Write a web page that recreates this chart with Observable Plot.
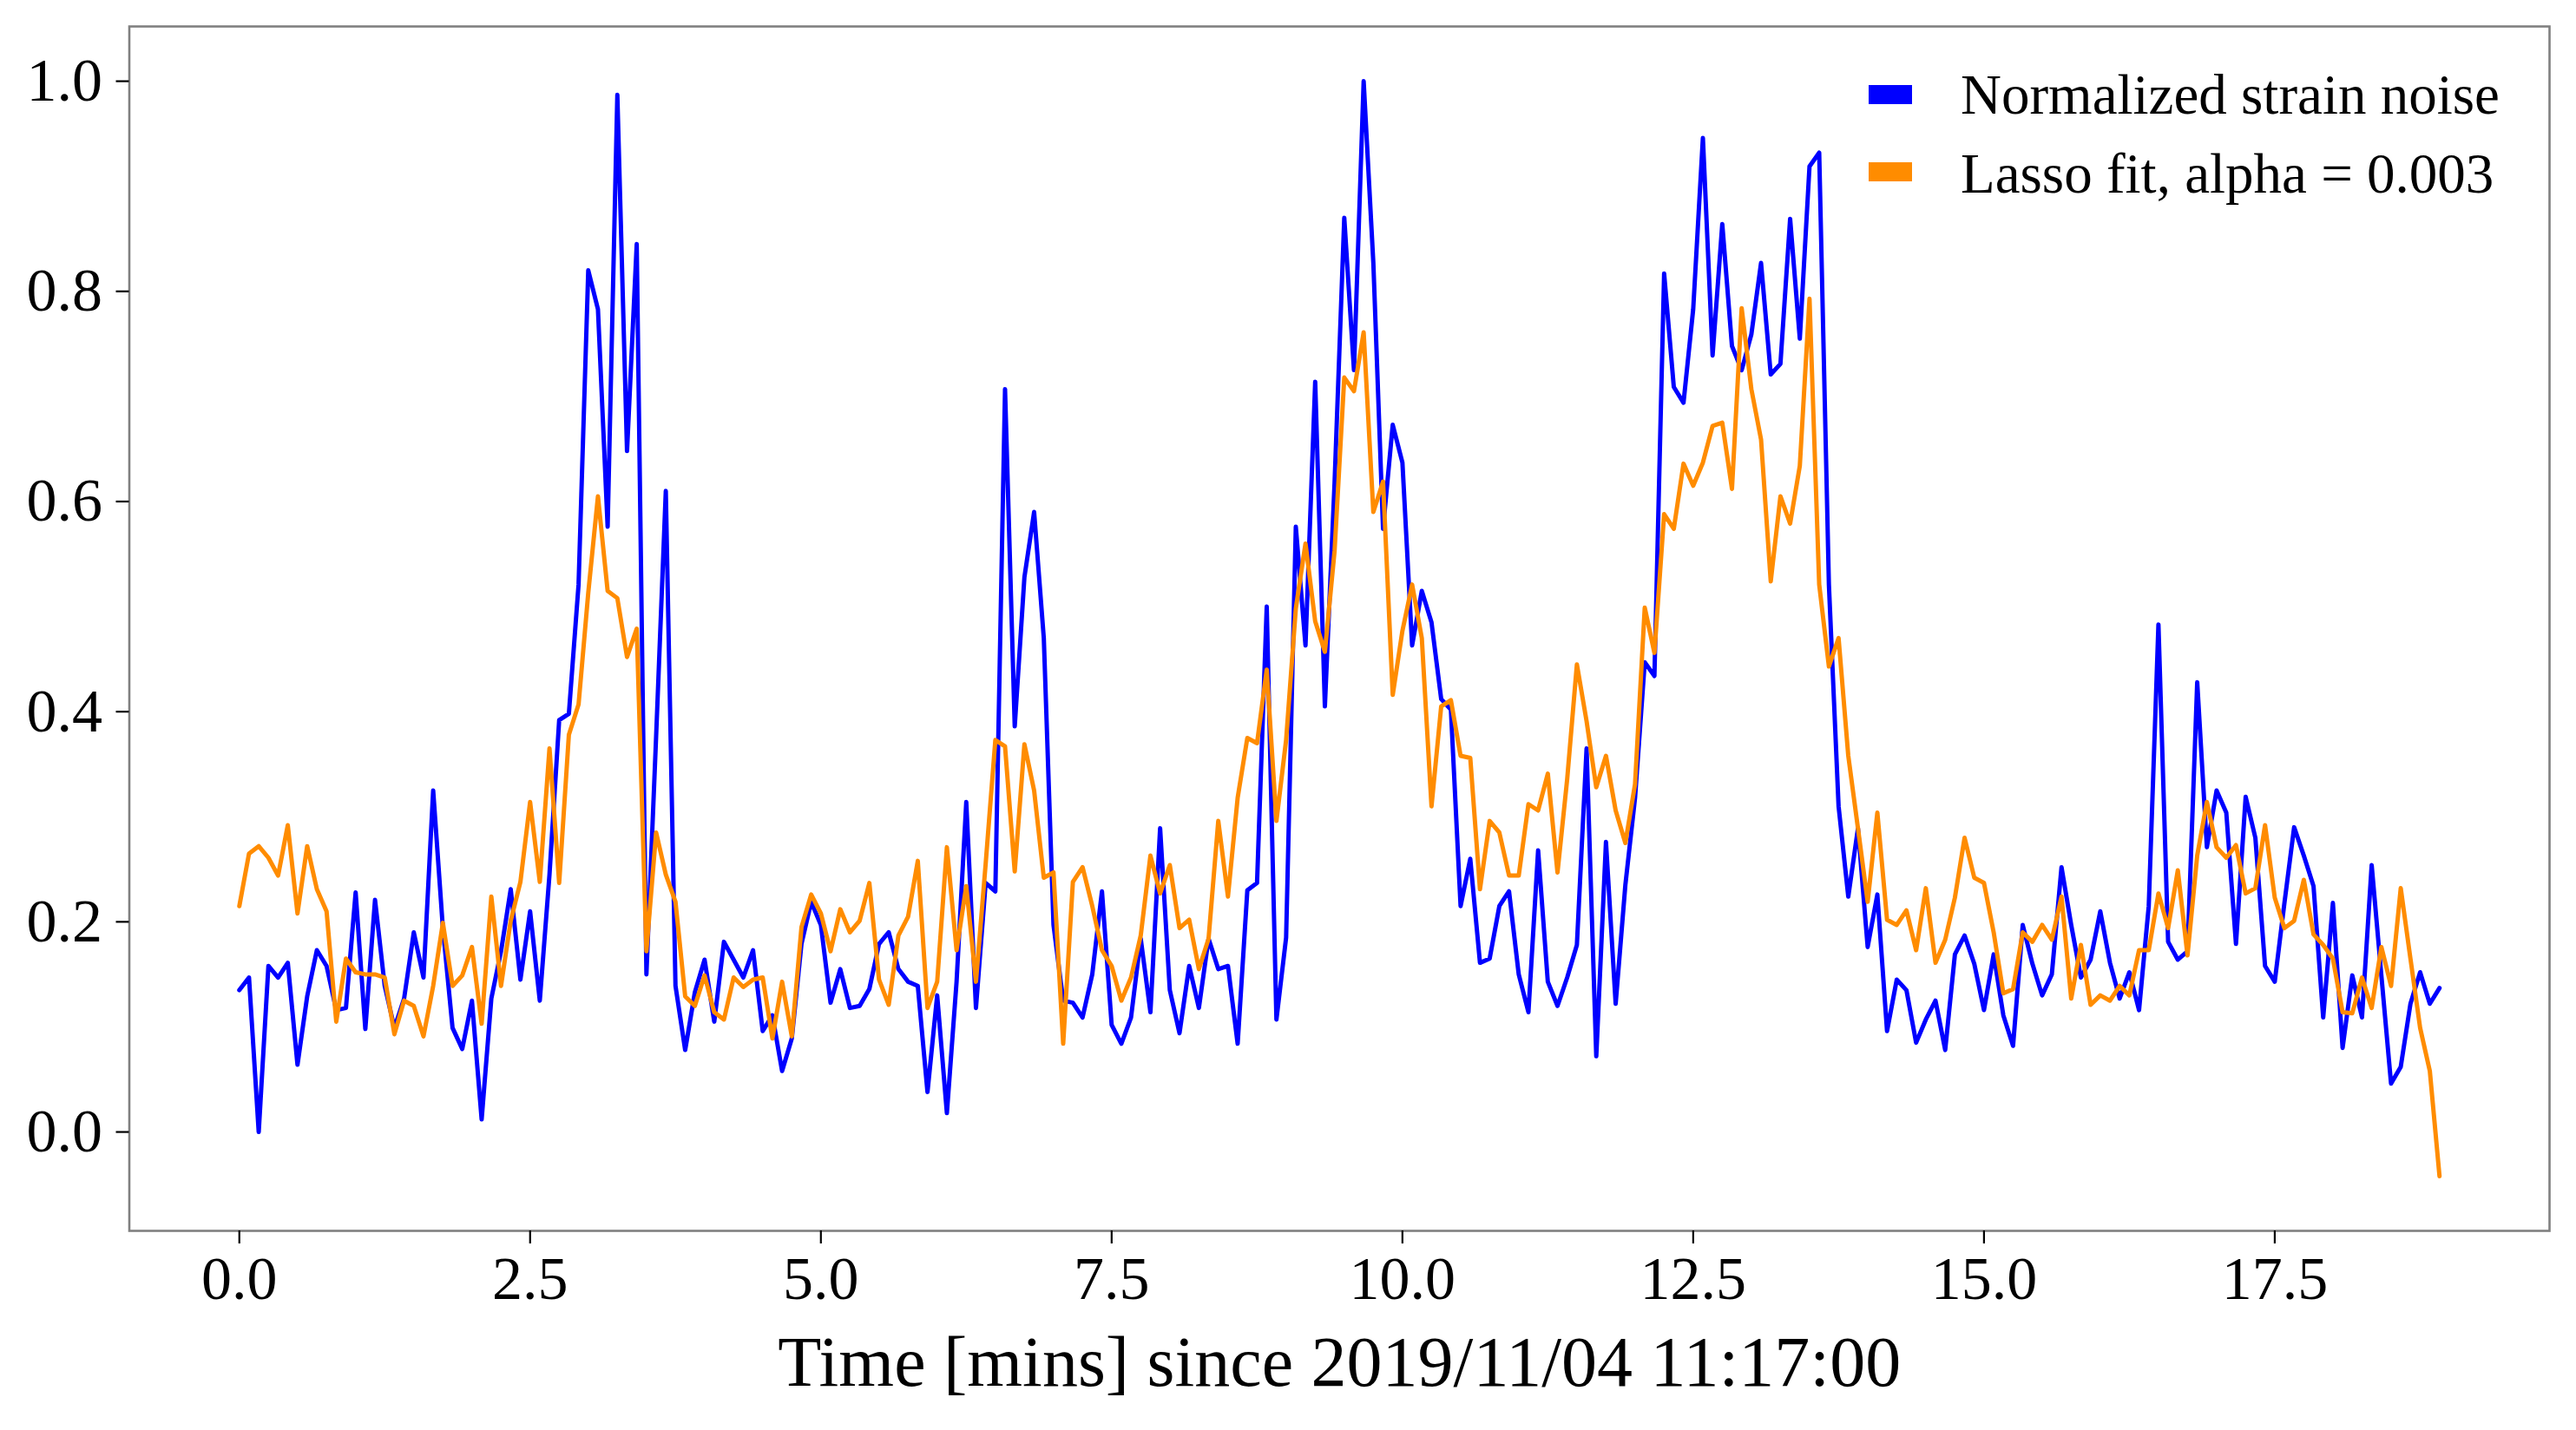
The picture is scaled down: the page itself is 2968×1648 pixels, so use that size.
<!DOCTYPE html>
<html>
<head>
<meta charset="utf-8">
<script src="https://cdn.jsdelivr.net/npm/d3@7"></script>
<script src="https://cdn.jsdelivr.net/npm/@observablehq/plot@0.6"></script>
<style>
  html, body { margin: 0; padding: 0; background: #fff; }
  #wrap { position: relative; width: 2968px; height: 1648px; }
  #wrap svg { font-family: "Liberation Serif", "DejaVu Serif", serif; }
  #legend { position: absolute; left: 0; top: 0; }
</style>
</head>
<body>
<div id="wrap"></div>
<script>
// Sampling: one point every 5 seconds, time in minutes
const sampleSeconds = 5;

const strainNoise = [
0.135,0.147,0.000,0.158,0.147,0.161,0.064,0.129,0.173,0.158,
0.116,0.118,0.228,0.098,0.221,0.139,0.099,0.127,0.190,0.147,
0.325,0.194,0.099,0.079,0.125,0.012,0.127,0.172,0.231,0.145,
0.210,0.125,0.245,0.392,0.398,0.521,0.820,0.783,0.576,0.987,
0.648,0.845,0.150,0.376,0.610,0.139,0.078,0.133,0.164,0.105,
0.181,0.164,0.147,0.173,0.096,0.111,0.058,0.089,0.179,0.219,
0.197,0.123,0.155,0.118,0.120,0.136,0.179,0.190,0.155,0.143,
0.139,0.038,0.130,0.018,0.143,0.314,0.118,0.237,0.229,0.707,
0.386,0.528,0.590,0.470,0.197,0.125,0.123,0.109,0.150,0.229,
0.102,0.084,0.109,0.184,0.114,0.289,0.135,0.094,0.158,0.118,
0.184,0.155,0.158,0.084,0.230,0.237,0.500,0.107,0.185,0.576,
0.463,0.714,0.405,0.618,0.870,0.725,1.000,0.827,0.574,0.673,
0.637,0.463,0.515,0.485,0.412,0.402,0.215,0.260,0.161,0.165,
0.215,0.229,0.150,0.114,0.268,0.143,0.120,0.147,0.178,0.365,
0.072,0.276,0.122,0.235,0.318,0.447,0.434,0.817,0.709,0.694,
0.783,0.946,0.739,0.864,0.748,0.725,0.759,0.827,0.721,0.731,
0.869,0.755,0.919,0.932,0.521,0.310,0.224,0.289,0.176,0.226,
0.096,0.145,0.135,0.085,0.107,0.125,0.078,0.169,0.187,0.160,
0.116,0.169,0.111,0.082,0.197,0.160,0.130,0.150,0.252,0.197,
0.147,0.164,0.210,0.161,0.127,0.152,0.116,0.215,0.483,0.181,
0.164,0.172,0.428,0.271,0.325,0.304,0.179,0.319,0.280,0.158,
0.143,0.218,0.290,0.263,0.234,0.109,0.218,0.080,0.149,0.109,
0.254,0.149,0.046,0.062,0.122,0.152,0.122,0.137
];

const lassoFit = [
0.215,0.265,0.272,0.261,0.244,0.292,0.208,0.272,0.231,0.210,
0.105,0.165,0.152,0.150,0.150,0.147,0.093,0.125,0.120,0.091,
0.139,0.199,0.139,0.149,0.176,0.103,0.224,0.139,0.201,0.238,
0.314,0.238,0.365,0.237,0.378,0.407,0.513,0.605,0.515,0.508,
0.452,0.479,0.172,0.285,0.245,0.219,0.129,0.120,0.149,0.114,
0.107,0.147,0.138,0.145,0.147,0.089,0.143,0.091,0.195,0.226,
0.208,0.172,0.212,0.190,0.201,0.237,0.145,0.121,0.187,0.205,
0.258,0.118,0.143,0.271,0.173,0.234,0.143,0.255,0.373,0.367,
0.248,0.369,0.325,0.242,0.247,0.084,0.238,0.252,0.215,0.173,
0.158,0.125,0.147,0.187,0.263,0.227,0.254,0.194,0.202,0.155,
0.184,0.296,0.224,0.318,0.375,0.370,0.440,0.296,0.373,0.498,
0.560,0.486,0.457,0.553,0.718,0.705,0.761,0.590,0.619,0.416,
0.477,0.521,0.470,0.310,0.405,0.411,0.358,0.356,0.231,0.296,
0.285,0.244,0.244,0.312,0.306,0.341,0.247,0.336,0.445,0.391,
0.328,0.358,0.306,0.275,0.331,0.499,0.456,0.588,0.574,0.636,
0.615,0.637,0.672,0.675,0.612,0.784,0.707,0.659,0.524,0.605,
0.579,0.634,0.793,0.521,0.443,0.470,0.358,0.289,0.219,0.304,
0.202,0.197,0.211,0.173,0.232,0.161,0.183,0.223,0.280,0.242,
0.237,0.190,0.132,0.136,0.190,0.181,0.197,0.183,0.224,0.127,
0.178,0.121,0.130,0.125,0.139,0.130,0.173,0.173,0.227,0.194,
0.249,0.168,0.263,0.314,0.271,0.261,0.273,0.227,0.232,0.292,
0.223,0.194,0.201,0.240,0.188,0.178,0.165,0.114,0.113,0.147,
0.118,0.176,0.139,0.232,0.165,0.099,0.058,-0.042
];

const xTicks = [0, 2.5, 5, 7.5, 10, 12.5, 15, 17.5];
const yTicks = [0, 0.2, 0.4, 0.6, 0.8, 1.0];
const xLabel = "Time [mins] since 2019/11/04 11:17:00";
const seriesNames = ["Normalized strain noise", "Lasso fit, alpha = 0.003"];
const seriesColors = ["#0000ff", "#ff8c00"];

const times = strainNoise.map((_, i) => i * sampleSeconds / 60);
const blueData = strainNoise.map((v, i) => ({t: times[i], v}));
const orangeData = lassoFit.map((v, i) => ({t: times[i], v}));

// matplotlib-style 5% margins
const allV = strainNoise.concat(lassoFit);
const vMin = d3.min(allV), vMax = d3.max(allV);
const tMax = d3.max(times);
const padT = tMax * 0.05, padV = (vMax - vMin) * 0.05;

const chart = Plot.plot({
  width: 2968,
  height: 1648,
  marginLeft: 148.5,
  marginRight: 31,
  marginTop: 30,
  marginBottom: 230,
  style: {fontFamily: "'Liberation Serif', 'DejaVu Serif', serif", background: "#fff", overflow: "visible"},
  x: {domain: [-padT, tMax + padT]},
  y: {domain: [vMin - padV, vMax + padV]},
  marks: [
    Plot.line(blueData, {x: "t", y: "v", stroke: seriesColors[0], strokeWidth: 5, strokeLinejoin: "round"}),
    Plot.line(orangeData, {x: "t", y: "v", stroke: seriesColors[1], strokeWidth: 5, strokeLinejoin: "round"}),
    Plot.frame({stroke: "#808080", strokeWidth: 2.6}),
    Plot.axisX({ticks: xTicks, tickFormat: d => d.toFixed(1), tickSize: 15, tickPadding: 14,
      fontSize: 70, strokeWidth: 2.2, label: null, color: "#000"}),
    Plot.axisY({ticks: yTicks, tickFormat: d => d.toFixed(1), tickSize: 15, tickPadding: 16,
      fontSize: 70, strokeWidth: 2.2, label: null, color: "#000"}),
    Plot.text([xLabel], {text: d => d, frameAnchor: "bottom", dy: 152, fontSize: 82, lineAnchor: "middle", fill: "#000"})
  ]
});

const wrap = document.getElementById("wrap");
wrap.appendChild(chart);

// Legend overlay (inside frame, top right)
const leg = d3.select(wrap).append("svg")
  .attr("id", "legend")
  .attr("width", 2968).attr("height", 1648)
  .style("pointer-events", "none");
const rows = [
  {name: seriesNames[0], color: seriesColors[0], cy: 109, base: 131},
  {name: seriesNames[1], color: seriesColors[1], cy: 198, base: 222}
];
rows.forEach(r => {
  leg.append("rect").attr("x", 2153).attr("y", r.cy - 11).attr("width", 50).attr("height", 22).attr("fill", r.color);
  leg.append("text").attr("x", 2259).attr("y", r.base)
    .attr("font-family", "'Liberation Serif', 'DejaVu Serif', serif")
    .attr("font-size", 65).attr("fill", "#000").text(r.name);
});
</script>
</body>
</html>
